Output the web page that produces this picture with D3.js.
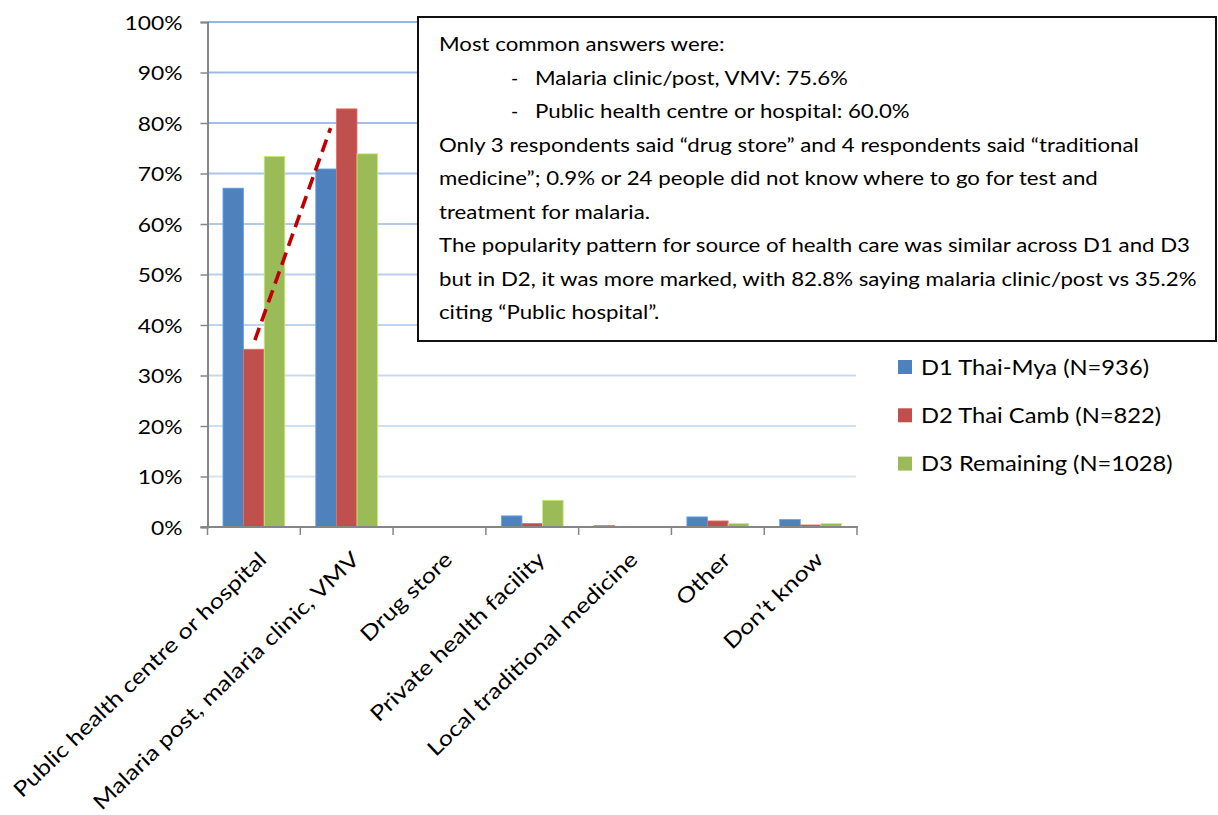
<!DOCTYPE html>
<html>
<head>
<meta charset="utf-8">
<script src="https://cdn.jsdelivr.net/npm/d3@7"></script>
<style>
  body { margin: 0; background: #fff; }
  text { font-family: Lato, "Open Sans", sans-serif; fill: #000; }
</style>
</head>
<body>
<svg id="chart" width="1218" height="815"></svg>
<script>
// Where respondents go for malaria test and treatment, by district group (% of respondents)
const categories = [
  "Public health centre or hospital",
  "Malaria post, malaria clinic, VMV",
  "Drug store",
  "Private health facility",
  "Local traditional medicine",
  "Other",
  "Don’t know"
];
const seriesNames = ["D1 Thai-Mya (N=936)", "D2 Thai Camb (N=822)", "D3 Remaining (N=1028)"];
const d1Values = [67.1, 70.9, 0.1, 2.2, 0.3, 2.0, 1.5];
const d2Values = [35.2, 82.8, 0.1, 0.7, 0.0, 1.2, 0.4];
const d3Values = [73.4, 73.9, 0.1, 5.3, 0.1, 0.7, 0.7];
const seriesColors = ["#4F81BD", "#C0504D", "#9BBB59"];
const yTicks = [0, 10, 20, 30, 40, 50, 60, 70, 80, 90, 100];

// Hand-drawn trend arrow from the D2 public-hospital bar up to the D2 malaria-post bar
const trendFrom = { category: categories[0], value: 37.0 };
const trendTo   = { category: categories[1], value: 79.0 };

// Commentary box
const noteLines = [
  { text: "Most common answers were:", bullet: false },
  { text: "Malaria clinic/post, VMV: 75.6%", bullet: true },
  { text: "Public health centre or hospital: 60.0%", bullet: true },
  { text: "Only 3 respondents said “drug store” and 4 respondents said “traditional", bullet: false },
  { text: "medicine”; 0.9% or 24 people did not know where to go for test and", bullet: false },
  { text: "treatment for malaria.", bullet: false },
  { text: "The popularity pattern for source of health care was similar across D1 and D3", bullet: false },
  { text: "but in D2, it was more marked, with 82.8% saying malaria clinic/post vs 35.2%", bullet: false },
  { text: "citing “Public hospital”.", bullet: false }
];

const series = seriesNames.map((name, i) => ({
  name, color: seriesColors[i], values: [d1Values, d2Values, d3Values][i]
}));

const svg = d3.select("#chart");
const plot = { left: 207.5, right: 857, top: 22, bottom: 527 };

const x0 = d3.scaleBand().domain(categories).range([plot.left, plot.right]).padding(0);
const x1 = d3.scaleBand().domain(seriesNames).range([0, x0.bandwidth()])
  .paddingInner(0).paddingOuter(0.75);
const y = d3.scaleLinear().domain([0, 100]).range([plot.bottom, plot.top]);

// Stretch a set of text nodes horizontally by a common factor so that a reference reaches a width
function stretchTexts(sel, refNode, refWidth) {
  const s = refWidth / refNode.getComputedTextLength();
  sel.each(function () {
    const w = this.getComputedTextLength();
    d3.select(this).attr("textLength", w * s).attr("lengthAdjust", "spacingAndGlyphs");
  });
}

// Gridlines, tinted darker towards the top
const gridColor = d3.interpolateRgb("#dfe8f4", "#93b6e4");
svg.append("g").selectAll("line").data(yTicks.slice(1)).join("line")
  .attr("x1", plot.left).attr("x2", plot.right - 1)
  .attr("y1", d => y(d)).attr("y2", d => y(d))
  .attr("stroke", d => gridColor(d / 100)).attr("stroke-width", 2);

// Bars
const groups = svg.append("g").selectAll("g").data(series).join("g")
  .attr("fill", d => d.color);
groups.selectAll("rect")
  .data(s => s.values.map((v, i) => ({ name: s.name, color: s.color, cat: categories[i], v })))
  .join("rect")
  .attr("x", d => x0(d.cat) + x1(d.name))
  .attr("width", x1.bandwidth())
  .attr("y", d => y(d.v))
  .attr("height", d => y(0) - y(d.v))
  .attr("stroke", d => d.v >= 0.2 ? d3.color(d.color).brighter(0.7) : "none")
  .attr("stroke-width", 0.8);

// Y axis
const yAxis = svg.append("g").attr("transform", `translate(${plot.left},0)`)
  .call(d3.axisLeft(y).tickValues(yTicks).tickSize(7).tickPadding(18)
    .tickFormat(d => d + "%"));
yAxis.select(".domain").attr("stroke", "#868686").attr("stroke-width", 2);
yAxis.selectAll(".tick line").attr("stroke", "#868686").attr("stroke-width", 1.5);
yAxis.selectAll(".tick text").attr("font-size", 20).attr("font-family", "Lato").attr("dy", "0.36em");
stretchTexts(yAxis.selectAll(".tick text"),
  yAxis.selectAll(".tick text").filter(d => d === 100).node(), 58);

// X axis with ticks on category boundaries
const xAxis = svg.append("g");
xAxis.append("line")
  .attr("x1", plot.left - 7).attr("x2", plot.right + 1)
  .attr("y1", y(0)).attr("y2", y(0))
  .attr("stroke", "#868686").attr("stroke-width", 2);
const boundaries = categories.map(c => x0(c)).concat([x0.range()[1]]);
xAxis.selectAll("line.tick").data(boundaries).join("line")
  .attr("class", "tick")
  .attr("x1", d => d).attr("x2", d => d)
  .attr("y1", y(0)).attr("y2", y(0) + 8)
  .attr("stroke", "#868686").attr("stroke-width", 1.5);
const xLabels = xAxis.selectAll("text").data(categories).join("text")
  .attr("transform", d => `translate(${x0(d) + x0.bandwidth() / 2 + 14},${y(0) + 34}) rotate(-44)`)
  .attr("text-anchor", "end")
  .attr("font-size", 21)
  .text(d => d);
stretchTexts(xLabels, xLabels.filter(d => d === categories[0]).node(), 342);

// Dashed trend arrow
svg.append("line")
  .attr("x1", x0(trendFrom.category) + x1(seriesNames[1]) + x1.bandwidth() / 2 + 1)
  .attr("y1", y(trendFrom.value))
  .attr("x2", x0(trendTo.category) + x1(seriesNames[0]) + x1.bandwidth() * 0.72)
  .attr("y2", y(trendTo.value))
  .attr("stroke", "#C00000").attr("stroke-width", 3.6)
  .attr("stroke-dasharray", "13,7");

// Commentary box
const note = svg.append("g");
note.append("rect")
  .attr("x", 418).attr("y", 17).attr("width", 798).attr("height", 324)
  .attr("fill", "#fff").attr("stroke", "#111").attr("stroke-width", 2);
const lineGap = 33.5;
const noteTexts = note.selectAll("text.line").data(noteLines).join("text")
  .attr("class", "line")
  .attr("x", d => d.bullet ? 535 : 439)
  .attr("y", (d, i) => 51 + i * lineGap)
  .attr("font-size", 19.5)
  .text(d => d.text);
note.selectAll("text.dash").data(noteLines.filter(d => d.bullet)).join("text")
  .attr("class", "dash")
  .attr("x", 511)
  .attr("y", d => 51 + noteLines.indexOf(d) * lineGap)
  .attr("font-size", 19.5)
  .text("-");
stretchTexts(noteTexts, noteTexts.filter((d, i) => i === 6).node(), 751);

// Legend
const legend = svg.append("g").selectAll("g").data(series).join("g")
  .attr("transform", (d, i) => `translate(898,${360 + i * 48.3})`);
legend.append("rect").attr("width", 14).attr("height", 14).attr("fill", d => d.color);
const legendTexts = legend.append("text")
  .attr("x", 23).attr("y", 14.5)
  .attr("font-size", 21)
  .text(d => d.name);
stretchTexts(legendTexts, legendTexts.nodes()[0], 228);
</script>
</body>
</html>
